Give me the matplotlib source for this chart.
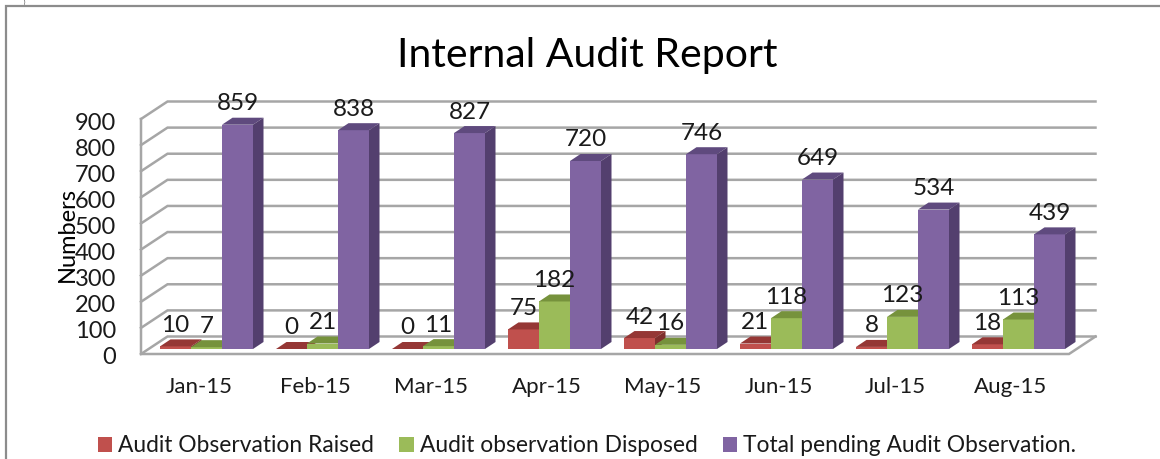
import numpy as np
import matplotlib
matplotlib.use('Agg')
import matplotlib.pyplot as plt
from matplotlib.lines import Line2D
from matplotlib.patches import Patch, Polygon
from matplotlib.transforms import ScaledTranslation

plt.rcParams['font.family'] = ['Lato', 'DejaVu Sans']

# data
months = ['Jan-15', 'Feb-15', 'Mar-15', 'Apr-15', 'May-15', 'Jun-15', 'Jul-15', 'Aug-15']
raised = [10, 0, 0, 75, 42, 21, 8, 18]
disposed = [7, 21, 11, 182, 16, 118, 123, 113]
pending = [859, 838, 827, 720, 746, 649, 534, 439]
series_names = ['Audit Observation Raised', 'Audit observation Disposed',
                'Total pending Audit Observation.']
y_ticks = list(range(0, 1000, 100))

# front, top, side
front_cols = ['#C0504D', '#9BBB59', '#8064A2']
top_cols = ['#953735', '#76923C', '#5F4A7E']
side_cols = ['#7F2F2D', '#66803A', '#533F6E']
grid_col = '#A6A6A6'
txt_col = '#1A1A1A'

W, H = 1160, 459
fig = plt.figure(figsize=(W / 100, H / 100), dpi=100)
ax = fig.add_axes([141 / W, 1 - 354 / H, 928 / W, 235 / H])
ax.set_xlim(0, 8)
ax.set_ylim(0, 900)
for s in ax.spines.values():
    s.set_visible(False)

# oblique depth of the box, in data units
depth_x = 26.5 / 116
depth_y = 17.5 / (235 / 900)

# walls
for v in y_ticks:
    ax.plot([0, depth_x, 8 + depth_x], [v, v + depth_y, v + depth_y], color=grid_col, lw=1.8,
            clip_on=False, zorder=1, solid_joinstyle='miter')
ax.plot([0, 0, 8, 8 + depth_x], [900, 0, 0, depth_y], color=grid_col, lw=1.8, clip_on=False,
        zorder=1, solid_joinstyle='miter')

# bars
bar_w = 31 / 116
bar_dx = 10.5 / 116
bar_dy = 7 / (235 / 900)
start_x = 7.5 / 116
start_y = 5 / (235 / 900)
label_gap = 23 / (235 / 900)

z = 2
for i in range(len(months)):
    for j, vals in enumerate([raised, disposed, pending]):
        v = vals[i]
        x0 = i + 0.5 + start_x + (j - 1.5) * bar_w
        x1 = x0 + bar_w
        y0 = start_y
        y1 = y0 + v
        ax.bar(x0, v, width=bar_w, bottom=y0, align='edge', color=front_cols[j], lw=0,
               clip_on=False, zorder=z)
        ax.add_patch(Polygon([(x0, y1), (x1, y1), (x1 + bar_dx, y1 + bar_dy), (x0 + bar_dx, y1 + bar_dy)],
                             closed=True, fc=top_cols[j], ec='none', clip_on=False, zorder=z))
        ax.add_patch(Polygon([(x1, y0), (x1 + bar_dx, y0 + bar_dy), (x1 + bar_dx, y1 + bar_dy), (x1, y1)],
                             closed=True, fc=side_cols[j], ec='none', clip_on=False, zorder=z))
        ax.text(x0 + bar_w / 2, y1 + label_gap, str(v), ha='center', va='center_baseline', fontsize=17.5,
                color=txt_col, zorder=50)
        z += 1

# axes text
ax.set_xticks(np.arange(len(months)) + 0.5)
ax.set_xticklabels(months, fontsize=16, color=txt_col)
ax.set_yticks(y_ticks)
ax.set_yticklabels([str(v) for v in y_ticks], fontsize=17, color=txt_col, va='center_baseline')
ax.tick_params(axis='x', length=0, pad=16.5)
ax.tick_params(axis='y', length=0, pad=18)
down = ScaledTranslation(0, -0.02, fig.dpi_scale_trans)
for lab in ax.get_yticklabels():
    lab.set_transform(lab.get_transform() + down)
ax.set_ylabel('Numbers', fontsize=17, color='black')
ax.yaxis.set_label_coords((78 - 141) / 928, (354 - 235) / 235)

fig.text(587 / W, 1 - 52 / H, 'Internal Audit Report', ha='center', va='center_baseline', fontsize=29.5,
         color='black')

handles = [Patch(fc=c, ec='none') for c in front_cols]
ax.legend(handles, series_names, loc='center', bbox_to_anchor=((587 - 141) / 928, (354 - 446) / 235),
          ncol=3, frameon=False, fontsize=16.4, handlelength=0.62, handleheight=0.62,
          handletextpad=0.27, columnspacing=1.1, labelcolor=txt_col, borderpad=0, borderaxespad=0)

# chart frame, cut off by the bottom and right of the image
frame_x = [6 / W, 6 / W, 1]
frame_y = [0, 1 - 6 / H, 1 - 6 / H]
fig.add_artist(Line2D(frame_x, frame_y, color='#8C8C8C', lw=1.6, solid_joinstyle='miter'))
fig.text(25 / W, 1 - 2.5 / H, ')', ha='center', va='center', fontsize=4, color='black')

fig.savefig('out.png', dpi=100)
